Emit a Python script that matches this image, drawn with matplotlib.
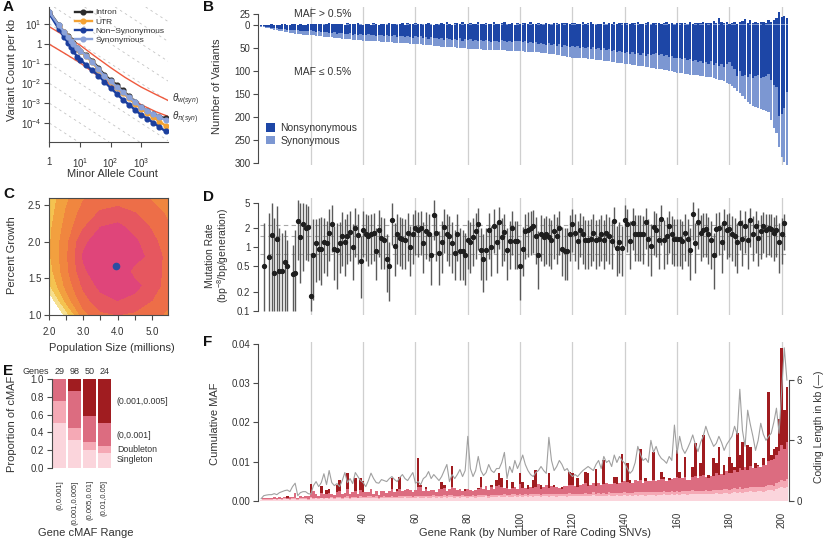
import numpy as np
import matplotlib.pyplot as plt
from matplotlib.patches import Patch
from matplotlib.ticker import NullLocator

nan = np.nan

# ---------------- panel A: frequency spectra ----------------
mac = [1, 2, 3, 4, 5, 6, 8, 10, 16, 25, 40, 63, 100, 160, 250, 400, 630, 1000, 1600, 2500, 4000, 6300]
sfs_intron = [40, 9, 4.0, 2.4, 1.5, 1.05, 0.6, 0.45, 0.27, 0.14, 0.062, 0.027, 0.015, 0.0085, 0.0045,
              0.0023, 0.0012, 6.5e-4, 4.0e-4, 2.8e-4, 2.1e-4, 1.8e-4]
sfs_utr = [36, 8.2, 3.7, 2.2, 1.4, 0.95, 0.55, 0.41, 0.23, 0.115, 0.05, 0.021, 0.0115, 0.0062, 0.0034,
           0.0018, 9.5e-4, 5.2e-4, 3.2e-4, 2.0e-4, 1.2e-4, 7.5e-5]
sfs_nonsyn = [32, 5.6, 2.1, 1.15, 0.68, 0.44, 0.22, 0.16, 0.083, 0.046, 0.025, 0.012, 0.006, 0.003,
              0.00155, 8.5e-4, 4.7e-4, 2.6e-4, 1.7e-4, 1.05e-4, 6.3e-5, 3.9e-5]
sfs_syn = [38, 8.5, 3.9, 2.3, 1.45, 1.0, 0.58, 0.44, 0.25, 0.126, 0.054, 0.023, 0.0126, 0.0069, 0.0038,
           0.002, 0.0012, 6.2e-4, 4.1e-4, 2.8e-4, 1.95e-4, 1.45e-4]
theta_x = [1, 3, 10, 30, 100, 300, 1000, 3000, 7600]
theta_w = [7.1, 2.6, 0.85, 0.24, 0.063, 0.02, 0.0066, 0.0028, 0.0014]
theta_pi = [0.93, 0.34, 0.11, 0.032, 0.0087, 0.0027, 0.00085, 0.00038, 0.00022]

# ---------------- panel C: likelihood surface ----------------
pop_size = [2.0, 2.5, 3.0, 3.5, 4.0, 4.5, 5.0, 5.5]
growth = [1.0, 1.2, 1.4, 1.6, 1.8, 2.0, 2.2, 2.4, 2.6]
loglik = [
    [-2.5, 0.4, 3.6, 4.8, 5.0, 4.8, 4.3, 3.8],
    [-1.0, 2.4, 4.6, 5.6, 6.0, 5.7, 5.0, 4.2],
    [0.8, 3.3, 5.2, 6.3, 6.8, 6.3, 5.5, 4.5],
    [1.5, 3.7, 5.8, 6.7, 7.0, 5.6, 5.5, 4.6],
    [1.8, 3.8, 6.1, 6.8, 7.0, 6.5, 5.6, 4.6],
    [1.8, 3.7, 5.8, 6.5, 6.8, 6.2, 5.3, 4.4],
    [1.7, 3.4, 4.9, 6.0, 6.3, 5.6, 4.9, 4.1],
    [1.5, 3.1, 4.4, 5.1, 5.3, 5.0, 4.4, 3.8],
    [1.3, 2.8, 3.9, 4.4, 4.6, 4.4, 3.9, 3.4],
]
best_fit = (3.95, 1.67)

# ---------------- panel B: variants per gene ----------------
rare_total = [
    3, 4, 5, 6, 8, 9, 10, 12, 13, 14, 15, 16, 17, 18, 19, 19, 20, 21, 21, 22,
    22, 23, 23, 24, 25, 25, 26, 26, 27, 28, 28, 29, 29, 30, 30, 31, 31, 32, 32, 33,
    33, 34, 34, 35, 35, 35, 36, 36, 37, 37, 37, 38, 38, 38, 39, 39, 39, 40, 40, 40,
    41, 41, 42, 42, 43, 43, 44, 45, 45, 46, 46, 47, 47, 48, 48, 49, 49, 50, 50, 51,
    51, 51, 52, 52, 52, 53, 53, 53, 53, 54, 54, 54, 54, 54, 55, 55, 55, 55, 55, 56,
    56, 57, 57, 58, 58, 59, 59, 60, 61, 61, 62, 63, 63, 64, 65, 66, 67, 68, 69, 70,
    70, 71, 71, 72, 72, 73, 73, 74, 75, 75, 76, 77, 77, 78, 79, 80, 81, 82, 83, 84,
    85, 85, 86, 87, 88, 88, 89, 90, 91, 92, 93, 94, 95, 96, 97, 98, 99, 100, 101, 103,
    104, 104, 105, 106, 107, 107, 108, 109, 110, 111, 112, 112, 113, 114, 116, 118, 120, 122, 125, 128,
    132, 137, 143, 148, 154, 160, 166, 172, 175, 177, 180, 183, 185, 187, 188, 205, 223, 235, 264, 286,
    297, 305]
rare_nonsyn = [
    2, 2, 3, 4, 5, 5, 6, 7, 8, 8, 9, 9, 10, 11, 11, 12, 12, 13, 12, 11,
    13, 14, 12, 15, 15, 14, 16, 17, 15, 18, 17, 16, 19, 18, 17, 20, 18, 21, 19, 20,
    21, 19, 22, 21, 23, 20, 22, 24, 21, 23, 24, 22, 25, 23, 24, 26, 23, 25, 27, 24,
    26, 24, 27, 25, 29, 26, 28, 27, 30, 28, 31, 27, 30, 32, 29, 31, 28, 33, 30, 32,
    30, 33, 31, 34, 32, 35, 31, 33, 36, 34, 33, 36, 32, 35, 37, 34, 36, 33, 35, 34,
    37, 35, 38, 36, 39, 37, 41, 38, 40, 42, 39, 43, 41, 44, 40, 46, 43, 45, 48, 44,
    47, 45, 49, 46, 50, 48, 51, 47, 52, 49, 53, 50, 54, 52, 56, 53, 58, 55, 57, 60,
    58, 62, 59, 63, 60, 64, 61, 66, 63, 65, 62, 60, 65, 63, 66, 64, 68, 66, 70, 72,
    70, 74, 72, 76, 73, 78, 75, 80, 77, 82, 80, 84, 78, 86, 82, 88, 85, 90, 84, 80,
    88, 95, 110, 100, 110, 108, 112, 105, 115, 110, 108, 115, 112, 110, 106, 118, 130, 135, 198, 194,
    180, 146]
common_nonsyn = [
    0, 1, 0, 1, 2, 0, 1, 0, 2, 1, 0, 1, 2, 1, 0, 2, 1, 0, 1, 2,
    1, 3, 2, 1, 0, 2, 4, 1, 2, 3, 1, 2, 0, 3, 1, 2, 3, 4, 2, 1,
    3, 2, 1, 4, 2, 0, 3, 1, 2, 5, 2, 3, 1, 2, 4, 1, 3, 2, 1, 3,
    2, 4, 1, 3, 5, 2, 1, 3, 2, 4, 3, 6, 2, 1, 3, 4, 2, 5, 3, 2,
    4, 3, 2, 5, 3, 1, 4, 2, 3, 5, 2, 4, 3, 6, 2, 3, 4, 1, 3, 2,
    3, 4, 2, 5, 3, 2, 4, 3, 1, 5, 3, 2, 4, 3, 2, 5, 3, 4, 2, 3,
    4, 2, 3, 5, 2, 4, 6, 3, 2, 4, 3, 5, 2, 4, 3, 6, 2, 4, 3, 5,
    3, 2, 4, 3, 5, 2, 4, 3, 6, 2, 4, 3, 5, 2, 4, 6, 3, 5, 2, 4,
    3, 5, 4, 2, 6, 3, 4, 5, 3, 6, 4, 3, 5, 7, 4, 14, 6, 4, 5, 3,
    4, 6, 3, 5, 7, 11, 5, 8, 4, 6, 3, 5, 7, 4, 8, 6, 10, 12, 26, 15,
    18, 12]
common_syn = [
    1, 0, 1, 0, 1, 1, 0, 1, 0, 1, 1, 0, 1, 1, 0, 1, 0, 1, 1, 0,
    1, 1, 0, 1, 2, 0, 1, 1, 0, 1, 1, 0, 1, 2, 1, 0, 1, 1, 2, 0,
    1, 1, 0, 2, 1, 1, 0, 1, 2, 1, 0, 1, 2, 1, 1, 0, 2, 1, 1, 2,
    1, 0, 2, 1, 1, 2, 0, 1, 2, 1, 1, 2, 1, 0, 2, 1, 1, 2, 1, 0,
    2, 1, 1, 2, 0, 1, 2, 1, 1, 2, 1, 0, 2, 1, 2, 1, 1, 0, 2, 1,
    2, 1, 1, 2, 1, 0, 2, 1, 2, 1, 1, 2, 1, 2, 0, 1, 2, 1, 1, 2,
    2, 1, 0, 2, 1, 2, 1, 1, 2, 0, 1, 2, 2, 1, 1, 2, 0, 1, 2, 1,
    2, 1, 1, 2, 2, 1, 0, 2, 1, 2, 1, 2, 1, 1, 2, 2, 1, 0, 2, 1,
    2, 1, 2, 2, 1, 1, 2, 1, 2, 2, 1, 2, 1, 2, 2, 3, 1, 2, 2, 1,
    2, 2, 1, 3, 2, 2, 1, 3, 2, 2, 2, 3, 1, 2, 3, 2, 2, 4, 3, 3,
    2, 3]

# ---------------- panel D: mutation rate per gene ----------------
mu = [
    nan, 0.5, nan, 0.7, 1.55, 0.4, 1.35, 0.43, 0.43, 0.58, 0.5, nan, 0.38, 0.39, 2.6, 1.45, 2.3, 2.0, 2.1, 0.17,
    0.75, 1.15, 0.93, 0.95, 1.2, 1.15, 1.7, 2.3, 0.95, 0.9, 1.15, 1.5, 1.2, 1.5, 1.75, 1.0, 2.0, 1.55, 0.6, 1.9,
    1.65, 1.5, 1.6, 1.7, 0.88, 1.9, 1.4, 1.3, 0.65, 0.5, 2.7, 1.05, 1.6, 1.4, 1.35, 1.3, 1.7, 1.0, 1.6, 2.0,
    1.85, 2.0, 1.15, 1.8, 1.65, 0.75, 3.2, 1.7, 0.8, 1.2, 2.1, 1.65, 1.5, 1.15, 0.82, 1.65, 0.88, 0.88, 0.75, 1.3,
    1.2, 1.45, 1.8, 2.35, 0.9, 0.65, 0.9, 1.85, 1.0, 2.2, 1.2, 2.5, 1.45, 1.75, 0.9, 1.25, 2.0, 1.25, 1.25, 0.5,
    0.95, 1.8, 1.9, 2.0, 2.15, 1.5, 0.75, 1.65, 1.45, 1.6, 1.45, 1.3, 1.8, 1.5, 2.0, 0.95, 0.88, 0.88, 1.65, 2.3,
    1.7, 1.25, 1.85, 1.6, 1.3, 1.3, 1.35, 1.7, 1.3, 1.35, 1.65, 1.3, 1.7, 1.5, 1.25, 2.6, 0.98, 1.2, 0.98, 2.7,
    2.3, 1.25, 2.45, 1.65, 1.65, 1.65, 1.6, 2.5, 1.35, 1.05, 2.1, 1.9, 1.3, 2.8, 1.3, 1.5, 2.2, 1.6, 1.35, 1.35,
    1.35, 1.25, 1.7, 1.35, 0.92, 3.4, 1.15, 2.5, 1.7, 1.9, 1.95, 1.6, 1.3, 0.75, 1.95, 2.0, 1.2, 2.4, 1.85, 1.95,
    1.65, 1.5, 1.2, 2.4, 1.35, 2.2, 1.3, 2.65, 1.65, 2.2, 1.4, 1.8, 2.2, 1.9, 2.0, 1.95, 1.7, 1.85, 1.2, 1.6,
    2.4, nan]
mu_hi = [
    nan, 2.4, nan, 3.5, 5.0, 2.9, 4.5, 2.0, 1.7, 1.9, 1.3, nan, 1.1, 1.9, 5.5, 5.0, 5.0, 4.8, 4.5, 0.8,
    2.8, 2.8, 2.9, 3.0, 2.9, 2.6, 4.0, 4.6, 2.2, 2.4, 2.5, 3.6, 2.8, 3.4, 3.8, 2.3, 4.2, 3.3, 1.5, 3.8,
    3.4, 3.2, 3.3, 3.5, 2.0, 3.9, 3.0, 2.9, 1.6, 1.2, 5.0, 2.4, 3.3, 3.0, 2.9, 2.8, 3.5, 2.2, 3.3, 3.9,
    3.6, 3.8, 2.5, 3.6, 3.3, 1.7, 5.5, 3.4, 1.8, 2.6, 4.0, 3.3, 3.1, 2.5, 1.9, 3.3, 2.0, 1.9, 1.7, 2.7,
    2.5, 2.9, 3.5, 4.2, 2.0, 1.6, 2.0, 3.5, 2.2, 4.0, 2.5, 4.3, 2.9, 3.4, 2.0, 2.6, 3.8, 2.6, 2.6, 1.3,
    2.1, 3.4, 3.6, 3.7, 3.9, 3.0, 1.8, 3.2, 2.9, 3.1, 2.9, 2.7, 3.4, 3.0, 3.7, 2.1, 2.0, 2.0, 3.2, 4.0,
    3.3, 2.6, 3.5, 3.1, 2.7, 2.7, 2.8, 3.3, 2.7, 2.8, 3.2, 2.7, 3.3, 3.0, 2.6, 4.4, 2.2, 2.5, 2.2, 4.6,
    4.0, 2.6, 4.2, 3.2, 3.2, 3.2, 3.1, 4.2, 2.8, 2.3, 3.8, 3.5, 2.7, 4.6, 2.7, 3.0, 3.8, 3.1, 2.8, 2.8,
    2.8, 2.6, 3.3, 2.8, 2.0, 5.2, 2.4, 4.1, 3.2, 3.5, 3.5, 3.0, 2.6, 1.7, 3.5, 3.6, 2.4, 4.0, 3.3, 3.5,
    3.1, 2.9, 2.4, 3.9, 2.7, 3.7, 2.6, 4.2, 3.1, 3.7, 2.7, 3.2, 3.6, 3.3, 3.4, 3.3, 3.0, 3.2, 2.4, 2.9,
    3.4, nan]
mu_lo = [
    nan, 0.1, nan, 0.1, 0.1, 0.1, 0.1, 0.1, 0.1, 0.1, 0.1, nan, 0.1, 0.1, 0.64, 0.27, 0.43, 0.64, 0.6, 0.1,
    0.15, 0.28, 0.3, 0.25, 0.4, 0.35, 0.6, 0.85, 0.3, 0.22, 0.4, 0.5, 0.35, 0.55, 0.6, 0.3, 0.7, 0.55, 0.16, 0.7,
    0.6, 0.5, 0.55, 0.6, 0.3, 0.7, 0.45, 0.45, 0.2, 0.14, 1.1, 0.35, 0.55, 0.5, 0.45, 0.45, 0.6, 0.35, 0.55, 0.75,
    0.7, 0.75, 0.4, 0.65, 0.6, 0.25, 1.3, 0.6, 0.25, 0.4, 0.8, 0.6, 0.5, 0.4, 0.3, 0.6, 0.3, 0.3, 0.25, 0.45,
    0.4, 0.5, 0.65, 0.9, 0.3, 0.2, 0.3, 0.65, 0.35, 0.8, 0.4, 0.95, 0.5, 0.6, 0.3, 0.45, 0.75, 0.45, 0.45, 0.15,
    0.35, 0.65, 0.7, 0.75, 0.8, 0.55, 0.22, 0.6, 0.5, 0.55, 0.5, 0.45, 0.65, 0.55, 0.75, 0.35, 0.3, 0.3, 0.6, 0.85,
    0.6, 0.45, 0.7, 0.55, 0.45, 0.45, 0.5, 0.6, 0.45, 0.5, 0.6, 0.45, 0.6, 0.55, 0.45, 1.0, 0.35, 0.4, 0.35, 1.05,
    0.85, 0.45, 0.9, 0.6, 0.6, 0.6, 0.55, 0.95, 0.5, 0.35, 0.75, 0.7, 0.45, 1.1, 0.45, 0.55, 0.8, 0.55, 0.5, 0.5,
    0.5, 0.45, 0.6, 0.5, 0.3, 1.3, 0.4, 0.95, 0.6, 0.7, 0.7, 0.55, 0.45, 0.22, 0.7, 0.75, 0.4, 0.9, 0.65, 0.7,
    0.6, 0.5, 0.4, 0.9, 0.5, 0.8, 0.45, 1.0, 0.6, 0.8, 0.5, 0.65, 0.8, 0.7, 0.75, 0.7, 0.6, 0.7, 0.4, 0.55,
    0.9, nan]
mu_ref = [0.78, 1.5, 2.25]

# ---------------- panel E: cMAF composition by gene cMAF range ----------------
e_ranges = ['(0,0.001]', '(0.001,0.005]', '(0.005,0.01]', '(0.01,0.05]']
e_genes = [29, 98, 50, 24]
e_single = [0.51, 0.31, 0.20, 0.17]
e_double = [0.24, 0.14, 0.09, 0.07]
e_low = [0.25, 0.42, 0.30, 0.27]
e_high = [0.00, 0.13, 0.41, 0.49]

# ---------------- panel F: cumulative MAF per gene (x 1e-3) ----------------
f_single = [
    0.2, 0.3, 0.3, 0.3, 0.3, 0.4, 0.3, 0.4, 0.3, 0.4, 0.4, 0.3, 0.4, 0.5, 0.3, 0.4, 0.4, 0.5, 0.3, 0.6,
    0.5, 0.6, 0.4, 0.6, 0.5, 0.6, 0.5, 0.7, 0.5, 0.6, 0.7, 0.5, 0.6, 0.7, 0.5, 0.6, 0.7, 0.6, 0.7, 0.6,
    0.6, 0.7, 0.8, 0.6, 0.7, 0.5, 0.7, 0.8, 0.6, 0.7, 0.8, 0.7, 0.6, 0.8, 0.7, 0.9, 0.7, 0.8, 0.6, 0.8,
    0.9, 0.8, 0.7, 0.9, 0.8, 0.7, 0.9, 0.8, 0.9, 0.7, 0.9, 0.8, 1.0, 0.9, 0.8, 0.9, 0.7, 1.0, 0.9, 0.8,
    0.9, 1.0, 0.8, 0.9, 1.0, 0.9, 1.1, 0.8, 1.0, 0.9, 1.0, 1.1, 0.9, 1.0, 1.1, 0.9, 1.0, 1.1, 1.0, 1.2,
    1.0, 1.1, 0.9, 1.2, 1.0, 1.1, 1.2, 1.0, 1.1, 1.2, 1.0, 1.2, 1.1, 1.0, 1.2, 1.1, 1.3, 1.0, 1.2, 1.1,
    1.2, 1.3, 1.1, 1.2, 1.3, 1.1, 1.2, 1.4, 1.2, 1.3, 1.1, 1.3, 1.2, 1.4, 1.3, 1.2, 1.4, 1.3, 1.2, 1.4,
    1.3, 1.4, 1.2, 1.5, 1.3, 1.4, 1.5, 1.3, 1.4, 1.5, 1.4, 1.3, 1.5, 1.4, 1.6, 1.5, 1.4, 1.6, 1.5, 1.6,
    1.5, 1.6, 1.7, 1.5, 1.6, 1.7, 1.6, 1.8, 1.6, 1.7, 1.8, 1.6, 1.7, 1.8, 1.9, 1.7, 1.8, 1.9, 2.0, 1.8,
    2.0, 2.1, 1.9, 2.2, 2.0, 2.3, 2.1, 2.4, 2.2, 2.3, 2.4, 2.5, 2.3, 2.6, 2.7, 2.8, 2.6, 3.0, 3.2, 3.5,
    3.3, 3.6]
f_double = [
    0.1, 0.1, 0.2, 0.1, 0.2, 0.1, 0.2, 0.1, 0.2, 0.2, 0.1, 0.2, 0.2, 0.3, 0.1, 0.2, 0.2, 0.1, 0.2, 0.3,
    0.3, 0.2, 0.3, 0.2, 0.3, 0.2, 0.3, 0.3, 0.2, 0.3, 0.3, 0.2, 0.3, 0.4, 0.2, 0.3, 0.3, 0.2, 0.4, 0.3,
    0.3, 0.4, 0.3, 0.3, 0.4, 0.2, 0.3, 0.4, 0.3, 0.3, 0.4, 0.3, 0.4, 0.3, 0.4, 0.3, 0.4, 0.4, 0.3, 0.4,
    0.4, 0.3, 0.4, 0.4, 0.3, 0.4, 0.5, 0.3, 0.4, 0.4, 0.5, 0.3, 0.4, 0.5, 0.4, 0.3, 0.5, 0.4, 0.4, 0.5,
    0.4, 0.5, 0.4, 0.5, 0.4, 0.5, 0.4, 0.5, 0.4, 0.6, 0.5, 0.4, 0.5, 0.6, 0.4, 0.5, 0.6, 0.5, 0.4, 0.6,
    0.5, 0.6, 0.5, 0.4, 0.6, 0.5, 0.6, 0.5, 0.6, 0.5, 0.6, 0.5, 0.6, 0.7, 0.5, 0.6, 0.5, 0.6, 0.7, 0.6,
    0.6, 0.5, 0.7, 0.6, 0.7, 0.6, 0.5, 0.7, 0.6, 0.7, 0.6, 0.7, 0.6, 0.8, 0.6, 0.7, 0.6, 0.7, 0.8, 0.7,
    0.7, 0.6, 0.8, 0.7, 0.8, 0.7, 0.6, 0.8, 0.7, 0.8, 0.7, 0.8, 0.7, 0.8, 0.9, 0.7, 0.8, 0.9, 0.8, 0.9,
    0.8, 0.9, 0.8, 0.9, 0.8, 1.0, 0.9, 0.8, 1.0, 0.9, 0.9, 1.0, 0.8, 1.0, 0.9, 1.1, 0.9, 1.0, 1.1, 1.0,
    1.0, 1.1, 1.0, 1.2, 1.1, 1.0, 1.2, 1.1, 1.2, 1.3, 1.2, 1.1, 1.3, 1.2, 1.4, 1.3, 1.2, 1.5, 1.6, 1.8,
    1.6, 1.9]
f_low = [
    0.0, 0.2, 0.1, 0.3, 0.2, 0.4, 0.2, 0.5, 0.3, 0.4, 0.3, 0.5, 0.4, 1.1, 0.3, 0.6, 0.4, 0.5, 0.6, 1.0,
    1.8, 0.8, 0.6, 1.2, 0.9, 1.0, 1.2, 0.8, 0.7, 1.4, 1.6, 0.9, 1.0, 1.8, 1.1, 1.3, 1.5, 1.0, 1.6, 1.4,
    1.2, 1.0, 1.8, 0.9, 1.3, 0.8, 1.5, 1.2, 1.0, 1.4, 1.8, 1.1, 1.6, 2.0, 1.4, 1.6, 1.8, 1.5, 1.2, 1.6,
    2.2, 2.4, 1.4, 1.8, 1.5, 1.6, 1.3, 1.2, 1.7, 2.0, 1.8, 1.4, 1.6, 2.2, 2.0, 1.5, 1.8, 1.2, 1.3, 1.6,
    1.4, 0.9, 1.5, 1.6, 2.0, 1.6, 2.3, 1.4, 2.0, 1.5, 2.2, 2.5, 2.0, 1.6, 1.8, 1.5, 1.7, 2.0, 1.6, 2.4,
    1.8, 1.6, 1.5, 2.0, 1.6, 1.8, 2.4, 1.5, 1.9, 2.3, 1.6, 2.0, 1.7, 1.8, 1.6, 1.4, 1.9, 2.2, 2.0, 2.4,
    2.0, 1.8, 2.2, 2.4, 2.6, 2.1, 2.2, 2.5, 2.0, 2.6, 2.4, 2.2, 2.8, 2.0, 2.4, 2.6, 2.2, 2.4, 2.8, 3.0,
    2.8, 2.4, 2.6, 3.0, 2.8, 3.2, 2.5, 2.9, 3.0, 2.6, 3.2, 2.8, 3.0, 3.4, 3.0, 2.8, 3.2, 3.0, 3.4, 3.6,
    3.4, 3.2, 3.6, 2.8, 3.0, 3.4, 3.8, 3.2, 3.6, 4.0, 3.4, 3.2, 3.8, 3.6, 4.2, 3.8, 4.0, 3.6, 4.4, 4.2,
    4.0, 4.6, 4.4, 5.0, 4.8, 5.2, 4.6, 5.4, 5.0, 4.8, 5.2, 5.0, 5.6, 5.4, 6.0, 6.4, 6.8, 7.2, 8.0, 9.0,
    8.2, 9.5]
f_high = [
    0, 0, 0, 0, 0, 0, 0, 0, 0, 0, 0.5, 0, 0, 0, 0, 0, 0, 0, 0, 2.4,
    0, 0, 0, 1.7, 0, 0.9, 1.1, 0, 0, 1.7, 2.7, 0, 0, 4.1, 0, 0, 3.2, 0, 3.0, 2.8,
    0, 0, 0, 0, 0, 0, 0, 0, 0, 0, 2.7, 0, 0.5, 3.0, 0, 0, 0, 0, 0, 0,
    7.3, 0.6, 0, 0.3, 0, 0, 0, 0, 0, 1.7, 0.8, 0, 0, 5.2, 0, 0, 0, 0, 0.4, 0,
    0, 0, 0, 0.2, 2.7, 0, 0, 0, 0.5, 0, 1.7, 3.0, 2.3, 0, 2.0, 0, 1.5, 0, 0, 2.8,
    1.5, 0, 1.1, 0, 2.1, 4.4, 0, 1.0, 0, 0, 3.8, 0, 0.6, 0, 0, 0.3, 0, 0, 3.5, 2.9,
    0, 2.1, 0, 0, 2.8, 3.2, 0, 0, 4.2, 0, 0, 6.2, 0, 0, 0, 1.6, 1.9, 0, 7.1, 0,
    4.7, 0.9, 0, 0, 0, 8.0, 0, 0.7, 0, 0, 7.2, 0, 0, 1.8, 0.6, 0, 0.4, 0, 0, 6.8,
    1.7, 0, 5.1, 0, 0, 2.6, 8.3, 0, 3.3, 10.2, 0, 0.7, 0, 4.4, 2.5, 7.2, 0, 2.6, 0, 4.2,
    2.5, 0.9, 9.9, 3.2, 7.2, 0, 6.3, 4.9, 0, 1.1, 0.3, 0, 1.6, 0, 17.7, 1.1, 2.7, 2.0, 8.0, 24.6,
    10.0, 14.1]
coding_kb = [
    0.1, 0.25, 0.28, 0.3, 0.3, 0.35, 0.3, 0.4, 0.45, 0.5, 0.53, 0.45, 0.7, 0.87, 0.25, 0.4, 0.45, 0.45, 0.35, 0.33,
    0.75, 0.95, 0.7, 0.9, 1.34, 0.8, 1.5, 0.9, 0.75, 0.85, 0.7, 1.0, 1.4, 0.9, 1.1, 0.85, 1.4, 1.2, 1.0, 0.9,
    0.7, 1.0, 1.37, 1.1, 0.9, 0.87, 1.05, 1.0, 0.95, 1.1, 1.2, 1.05, 0.95, 1.15, 1.3, 1.1, 1.0, 1.2, 1.4, 0.87,
    0.95, 0.8, 1.1, 1.2, 1.45, 1.1, 1.3, 1.15, 1.0, 1.2, 1.5, 1.8, 0.95, 1.3, 1.1, 1.3, 1.55, 1.2, 1.5, 3.2,
    1.6, 1.2, 1.5, 2.2, 1.5, 1.25, 1.4, 1.8, 1.5, 1.4, 1.6, 1.6, 1.9, 2.4, 1.1, 1.7, 1.4, 2.0, 1.6, 1.9,
    2.27, 1.8, 1.5, 1.3, 1.2, 1.4, 1.5, 1.7, 1.5, 1.36, 3.15, 2.0, 1.5, 1.7, 2.0, 1.8, 1.5, 1.6, 1.36, 1.2,
    1.3, 1.2, 1.36, 1.5, 1.6, 1.7, 1.6, 1.5, 1.8, 2.0, 1.6, 2.2, 1.9, 2.0, 1.7, 2.27, 1.9, 2.2, 2.0, 1.86,
    1.6, 1.36, 1.5, 1.9, 2.7, 2.3, 2.0, 2.1, 1.9, 3.0, 2.4, 2.7, 2.3, 2.1, 2.0, 1.86, 2.2, 2.0, 3.76, 2.35,
    3.2, 2.6, 2.35, 2.6, 2.9, 3.27, 2.8, 2.44, 2.9, 3.2, 3.7, 3.3, 3.0, 2.7, 2.85, 3.2, 2.9, 2.5, 2.8, 3.0,
    3.2, 3.7, 3.3, 5.54, 3.5, 2.7, 4.5, 3.8, 3.2, 2.5, 3.0, 3.85, 3.3, 3.0, 3.2, 3.35, 3.9, 4.6, 3.35, 5.5,
    7.6, 6.0]

genes = np.arange(1, len(rare_total) + 1)
rank_ticks = list(range(20, 201, 20))

# ---------------- style ----------------
plt.rcParams['font.family'] = ['Liberation Sans', 'DejaVu Sans']
plt.rcParams['mathtext.fontset'] = 'custom'
plt.rcParams['mathtext.rm'] = 'Liberation Sans'
plt.rcParams['mathtext.it'] = 'Liberation Sans:italic'
SPINE = '#4a4a4a'
TXT = '#333333'
GRID = '#cfcfcf'
NS_COL = '#1d46a6'
SY_COL = '#7c97d2'
CMAF_COLS = ['#fbd5dc', '#f5a9b5', '#dc6c80', '#a01c20']

W, H = 829, 541
fig = plt.figure(figsize=(W / 100, H / 100), dpi=100)


def add_ax(x0, y0, x1, y1):
    return fig.add_axes([x0 / W, 1 - y1 / H, (x1 - x0) / W, (y1 - y0) / H])


def ftext(x, y, s, **kw):
    kw.setdefault('color', TXT)
    fig.text(x / W, 1 - y / H, s, **kw)


def style(ax, keep=('left', 'bottom')):
    for side in ['left', 'right', 'top', 'bottom']:
        ax.spines[side].set_visible(side in keep)
        ax.spines[side].set_color(SPINE)
        ax.spines[side].set_linewidth(0.8)
    ax.tick_params(colors=SPINE, labelcolor=TXT, labelsize=7, length=3.5, width=0.8, pad=2)


# ---- A ----
axA = add_ax(49.5, 7, 168, 142)
style(axA)
axA.set_xscale('log')
axA.set_yscale('log')
for k in range(-6, 8):
    axA.axline((1, 10.0 ** k), (10, 10.0 ** (k - 1)), color='#c4c4c4', lw=0.6, ls=(0, (3, 4)), zorder=0)
axA.plot(theta_x, theta_w, color='#ef5a3e', lw=1.0, zorder=1)
axA.plot(theta_x, theta_pi, color='#ef5a3e', lw=1.0, zorder=1)
for ys, col, lab in [(sfs_intron, '#2b2b2b', 'Intron'), (sfs_utr, '#f4a233', 'UTR'),
                     (sfs_nonsyn, '#1c3f9e', 'Non\u2212Synonymous'), (sfs_syn, '#8aa2da', 'Synonymous')]:
    axA.plot(mac, ys, '-o', color=col, lw=1.7, ms=3.4, label=lab, zorder=2)
axA.set_xlim(1, 7600)
axA.set_ylim(10 ** -4.95, 10 ** 1.85)
axA.set_xticks([1, 10, 100, 1000], labels=['1', '$10^1$', '$10^2$', '$10^3$'])
axA.set_yticks([10, 1, 0.1, 0.01, 0.001, 0.0001],
               labels=['$10^1$', '1', '$10^{-1}$', '$10^{-2}$', '$10^{-3}$', '$10^{-4}$'])
axA.xaxis.set_minor_locator(NullLocator())
axA.yaxis.set_minor_locator(NullLocator())
axA.tick_params(axis='x', pad=7)
axA.legend(loc='upper left', bbox_to_anchor=(0.2, 1.0), frameon=False, fontsize=6,
           labelspacing=0.15, handletextpad=0.5, handlelength=2.0, borderaxespad=0, borderpad=0.2,
           labelcolor=TXT)
ftext(172, 100, r'$\theta_{w(syn)}$', fontsize=7, va='center')
ftext(172, 118, r'$\theta_{\pi(syn)}$', fontsize=7, va='center')
ftext(112, 174, 'Minor Allele Count', fontsize=8, ha='center', va='center')
ftext(12, 70, 'Variant Count per kb', fontsize=8, ha='center', va='center', rotation=90)

# ---- B ----
axB = add_ax(258, 7, 789, 165)
style(axB, keep=('left',))
for g in rank_ticks:
    axB.axvline(g, color=GRID, lw=0.9, zorder=0)
rare_ns = np.array(rare_nonsyn)
rare_sy = np.array(rare_total) - rare_ns
axB.bar(genes, -rare_ns, 0.88, color=NS_COL, lw=0, zorder=2)
axB.bar(genes, -rare_sy, 0.88, bottom=-rare_ns, color=SY_COL, lw=0, zorder=2)
axB.bar(genes, common_syn, 0.88, color=SY_COL, lw=0, zorder=2)
axB.bar(genes, common_nonsyn, 0.88, bottom=common_syn, color=NS_COL, lw=0, zorder=2)
axB.set_xlim(-0.2, 202.8)
axB.set_ylim(-304, 40)
axB.set_yticks([25, 0, -50, -100, -150, -200, -250, -300],
               labels=['25', '0', '50', '100', '150', '200', '250', '300'])
axB.spines['left'].set_bounds(-300, 25)
axB.set_xticks([])
axB.legend(handles=[Patch(color=NS_COL, lw=0), Patch(color=SY_COL, lw=0)],
           labels=['Nonsynonymous', 'Synonymous'], loc='upper left',
           bbox_to_anchor=(8 / 531, 1 - 116 / 158), frameon=False, fontsize=7.5,
           handlelength=0.9, handleheight=0.9, handletextpad=0.5, labelspacing=0.25,
           borderaxespad=0, borderpad=0, labelcolor=TXT)
ftext(323, 14, 'MAF > 0.5%', fontsize=7.5, ha='center', va='center')
ftext(323, 72, 'MAF \u2264 0.5%', fontsize=7.5, ha='center', va='center')
ftext(217, 86, 'Number of Variants', fontsize=8, ha='center', va='center', rotation=90)

# ---- C ----
axC = add_ax(49, 198, 168, 315)
style(axC, keep=('left', 'bottom', 'top', 'right'))
c_levels = [0, 1, 2, 3, 4, 5, 6, 8]
c_colors = ['#f6df8e', '#f4c350', '#f2a03f', '#f0863f', '#ed6e48', '#e6575f', '#df457a']
axC.contourf(pop_size, growth, loglik, levels=c_levels, colors=c_colors)
axC.plot(*best_fit, 'o', color='#2c4ea2', ms=4.5)
axC.set_xlim(2.0, 5.47)
axC.set_ylim(1.0, 2.6)
axC.set_xticks([2.0, 2.5, 3.0, 3.5, 4.0, 4.5, 5.0],
               labels=['2.0', '', '3.0', '', '4.0', '', '5.0'])
axC.set_yticks([1.0, 1.5, 2.0, 2.5], labels=['1.0', '1.5', '2.0', '2.5'])
axC.tick_params(axis='x', pad=5)
ftext(112, 348, 'Population Size (millions)', fontsize=8, ha='center', va='center')
ftext(12, 255, 'Percent Growth', fontsize=8, ha='center', va='center', rotation=90)

# ---- D ----
axD = add_ax(258, 198, 789, 315)
style(axD, keep=('left',))
for g in rank_ticks:
    axD.axvline(g, color=GRID, lw=0.9, zorder=0)
axD.hlines(mu_ref, 0.5, 202, colors='#a8a8a8', lw=0.8, linestyles=(0, (4, 3)), zorder=1)
axD.vlines(genes, mu_lo, mu_hi, color='#5a5a5a', lw=1.0, zorder=2)
axD.plot(genes, mu, 'o', color='#1e1e1e', ms=2.8, zorder=3)
axD.set_yscale('log')
axD.set_xlim(-0.2, 202.8)
axD.set_ylim(0.0855, 6.0)
axD.set_yticks([0.1, 0.2, 0.5, 1, 2, 5], labels=['0.1', '0.2', '0.5', '1', '2', '5'])
axD.yaxis.set_minor_locator(NullLocator())
axD.spines['left'].set_bounds(0.1, 5)
axD.set_xticks([])
ftext(210, 256, 'Mutation Rate', fontsize=7.5, ha='center', va='center', rotation=90)
ftext(223, 256, '(bp$^{-8}$/bp/generation)', fontsize=7.5, ha='center', va='center', rotation=90)

# ---- E ----
axE = add_ax(51.7, 379.3, 113, 467.7)
style(axE, keep=('left',))
pos = np.arange(len(e_ranges))
base = np.zeros(len(e_ranges))
for vals, col in zip([e_single, e_double, e_low, e_high], CMAF_COLS):
    axE.bar(pos, vals, 0.84, bottom=base, color=col, lw=0)
    base += np.array(vals)
axE.set_xlim(-0.54, 3.57)
axE.set_ylim(0, 1)
axE.set_yticks([0, 0.2, 0.4, 0.6, 0.8, 1.0], labels=['0.0', '0.2', '0.4', '0.6', '0.8', '1.0'])
axE.set_xticks(pos, labels=e_ranges, rotation=90, fontsize=5.5)
axE.tick_params(axis='x', length=0, pad=9)
for p, n in zip(pos, e_genes):
    axE.text(p, 1.04, str(n), ha='center', va='bottom', fontsize=6.5, color=TXT)
ftext(36, 372, 'Genes', fontsize=6.5, ha='center', va='center')
ftext(117, 402, '(0.001,0.005]', fontsize=6.3, va='center')
ftext(117, 435, '(0,0.001]', fontsize=6.3, va='center')
ftext(117, 450, 'Doubleton', fontsize=6.3, va='center')
ftext(117, 460, 'Singleton', fontsize=6.3, va='center')
ftext(12, 424, 'Proportion of cMAF', fontsize=8, ha='center', va='center', rotation=90)
ftext(86, 533, 'Gene cMAF Range', fontsize=8, ha='center', va='center')

# ---- F ----
axF = add_ax(258, 342, 789, 500.7)
style(axF, keep=('left',))
for g in rank_ticks:
    axF.axvline(g, color=GRID, lw=0.9, zorder=0)
axF.axhline(0, color='#c8c8c8', lw=0.8, zorder=1)
stack = np.zeros(len(genes))
for vals, col in zip([f_single, f_double, f_low, f_high], CMAF_COLS):
    v = np.array(vals) * 1e-3
    axF.bar(genes, v, 1.0, bottom=stack, color=col, lw=0, zorder=2)
    stack += v
axF.set_xlim(-0.2, 202.8)
axF.set_ylim(0, 0.0405)
axF.set_yticks([0, 0.01, 0.02, 0.03, 0.04], labels=['0.00', '0.01', '0.02', '0.03', '0.04'])
axF.spines['left'].set_bounds(0, 0.04)
axF.set_xticks(rank_ticks, labels=[str(t) for t in rank_ticks], rotation=90)
axF.tick_params(axis='x', length=0, pad=8)
axF2 = axF.twinx()
style(axF2, keep=('right',))
axF2.plot(genes, coding_kb, color='#a0a0a0', lw=0.8)
axF2.set_ylim(0, 7.89)
axF2.set_yticks([0, 3, 6])
axF2.spines['right'].set_bounds(0, 6)
axF2.spines['right'].set_position(('data', 202.8))
ftext(215, 424, 'Cumulative MAF', fontsize=8, ha='center', va='center', rotation=90)
ftext(819, 427, 'Coding Length in kb (\u2014)', fontsize=7.5, ha='center', va='center', rotation=90)
ftext(535, 533, 'Gene Rank (by Number of Rare Coding SNVs)', fontsize=8, ha='center', va='center')

# ---- panel letters ----
for lab, x, y in [('A', 3, 0), ('B', 203, 0), ('C', 3, 187), ('D', 203, 190), ('E', 3, 364), ('F', 203, 335)]:
    ftext(x, y, lab, fontsize=11, fontweight='bold', va='top', color='#111111')

fig.savefig('out.png', dpi=100)
